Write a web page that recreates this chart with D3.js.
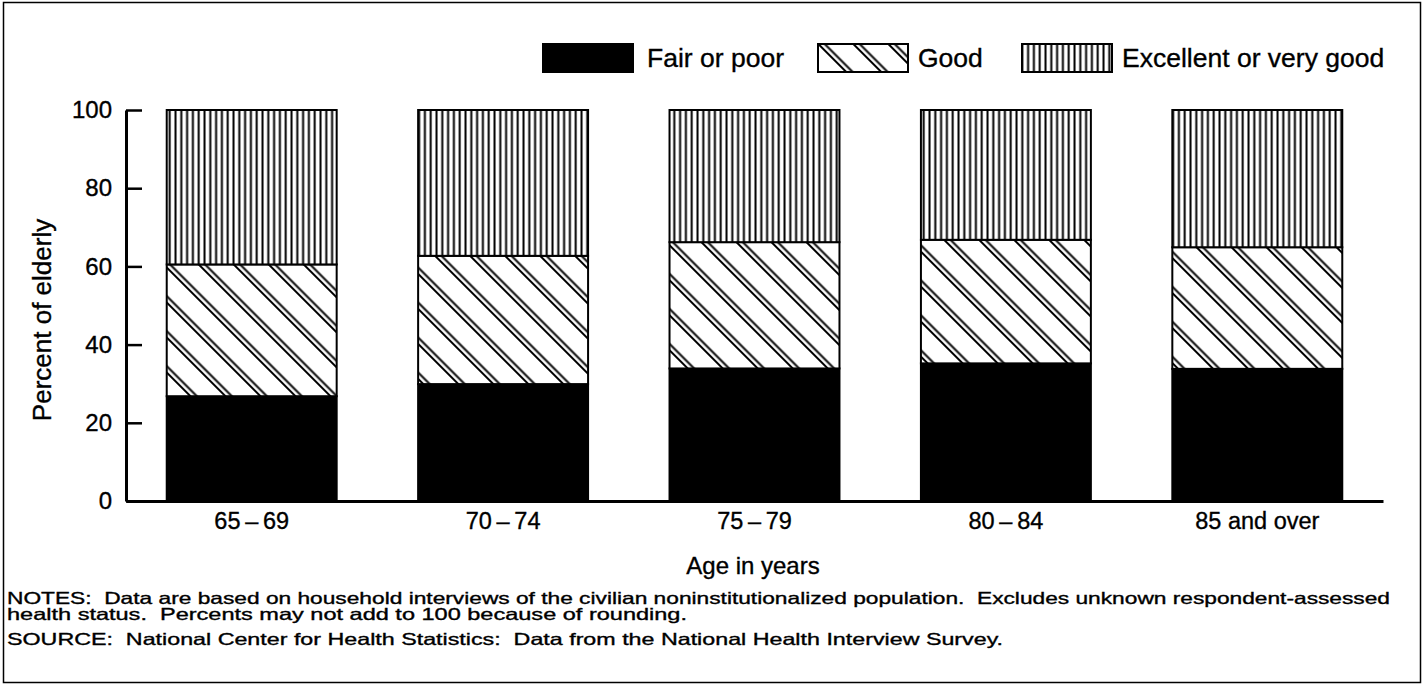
<!DOCTYPE html>
<html>
<head>
<meta charset="utf-8">
<script src="https://cdn.jsdelivr.net/npm/d3@7"></script>
<style>
  html, body { margin: 0; padding: 0; background: #fff; }
  svg { display: block; font-family: "Liberation Sans", Arial, Helvetica, sans-serif; }
  svg text { stroke: #000; stroke-width: 0.35px; fill: #000; }
  svg text.note { white-space: pre; }
</style>
</head>
<body>
<svg id="chart" width="1428" height="685"></svg>
<script>
// ---- Data ----
const categories = ["65\u201369", "70\u201374", "75\u201379", "80\u201384", "85 and over"];
const fairOrPoor = [26.8, 29.9, 33.9, 35.2, 33.8];
const good = [33.7, 32.8, 32.3, 31.6, 31.1];
const excellentOrVeryGood = [39.5, 37.3, 33.8, 33.2, 35.1];
const seriesNames = ["Fair or poor", "Good", "Excellent or very good"];
const yTicks = [0, 20, 40, 60, 80, 100];
const yLabel = "Percent of elderly";
const xLabel = "Age in years";
const notes = [
  "NOTES:  Data are based on household interviews of the civilian noninstitutionalized population.  Excludes unknown respondent-assessed",
  "health status.  Percents may not add to 100 because of rounding.",
  "SOURCE:  National Center for Health Statistics:  Data from the National Health Interview Survey."
];

const rows = categories.map((c, i) => ({
  cat: c,
  "Fair or poor": fairOrPoor[i],
  "Good": good[i],
  "Excellent or very good": excellentOrVeryGood[i]
}));

const svg = d3.select("#chart");

// ---- Patterns ----
const defs = svg.append("defs");
const pGood = defs.append("pattern")
  .attr("id", "pat-good")
  .attr("patternUnits", "userSpaceOnUse")
  .attr("width", 24.75).attr("height", 20)
  .attr("patternTransform", "rotate(-45)");
pGood.append("rect").attr("width", 24.75).attr("height", 20).attr("fill", "#fff");
pGood.append("line").attr("x1", 3).attr("x2", 3).attr("y1", 0).attr("y2", 20)
  .attr("stroke", "#000").attr("stroke-width", 2);
pGood.append("line").attr("x1", 7.5).attr("x2", 7.5).attr("y1", 0).attr("y2", 20)
  .attr("stroke", "#000").attr("stroke-width", 2);

const pExc = defs.append("pattern")
  .attr("id", "pat-exc")
  .attr("patternUnits", "userSpaceOnUse")
  .attr("width", 5.8).attr("height", 10);
pExc.append("rect").attr("width", 5.8).attr("height", 10).attr("fill", "#fff");
pExc.append("line").attr("x1", 1.5).attr("x2", 1.5).attr("y1", 0).attr("y2", 10)
  .attr("stroke", "#000").attr("stroke-width", 2);

const fills = {
  "Fair or poor": "#000",
  "Good": "url(#pat-good)",
  "Excellent or very good": "url(#pat-exc)"
};

// ---- Border ----
svg.append("rect")
  .attr("x", 3.5).attr("y", 2.5).attr("width", 1417).attr("height", 680)
  .attr("fill", "none").attr("stroke", "#000").attr("stroke-width", 1.5);

// ---- Scales ----
const x = d3.scaleBand().domain(categories).range([126, 1383])
  .paddingInner(0.324).paddingOuter(0.162);
const y = d3.scaleLinear().domain([0, 100]).range([501, 110]);

// ---- Bars ----
const stack = d3.stack().keys(seriesNames);
const stacked = stack(rows);

svg.append("g").selectAll("g")
  .data(stacked)
  .join("g")
  .attr("fill", d => fills[d.key])
  .selectAll("rect")
  .data(d => d)
  .join("rect")
  .attr("x", d => x(d.data.cat))
  .attr("width", x.bandwidth())
  .attr("y", d => y(d[1]))
  .attr("height", d => y(d[0]) - y(d[1]))
  .attr("stroke", "#000")
  .attr("stroke-width", 2);

// ---- Axes ----
const yAxis = d3.axisLeft(y).tickValues(yTicks).tickSizeInner(-16).tickSizeOuter(0).tickPadding(14);
const gy = svg.append("g").attr("transform", "translate(126,0)").call(yAxis);
gy.select(".domain").attr("stroke-width", 3);
gy.selectAll(".tick line").attr("stroke-width", 2.5);
gy.selectAll(".tick text").attr("font-size", 24)
  .attr("font-family", "Liberation Sans, Arial, sans-serif");

const xAxis = d3.axisBottom(x).tickSize(0).tickPadding(11)
  .tickFormat(d => d.replace("\u2013", "\u2009\u2013\u2009"));
const gx = svg.append("g").attr("transform", "translate(0,501)").call(xAxis);
gx.select(".domain").attr("stroke-width", 3);
gx.selectAll(".tick text").attr("font-size", 23.5)
  .attr("font-family", "Liberation Sans, Arial, sans-serif");

// ---- Axis titles ----
svg.append("text")
  .attr("transform", "translate(51,320) rotate(-90)")
  .attr("text-anchor", "middle")
  .attr("font-size", 26)
  .text(yLabel);

svg.append("text")
  .attr("x", 753).attr("y", 574)
  .attr("text-anchor", "middle")
  .attr("font-size", 24)
  .text(xLabel);

// ---- Legend ----
const legendItems = [
  { key: "Fair or poor", bx: 543, tx: 647 },
  { key: "Good", bx: 818, tx: 918 },
  { key: "Excellent or very good", bx: 1022, tx: 1122 }
];
const lg = svg.append("g");
legendItems.forEach(it => {
  lg.append("rect")
    .attr("x", it.bx).attr("y", 44).attr("width", 90).attr("height", 28)
    .attr("fill", fills[it.key]).attr("stroke", "#000").attr("stroke-width", 2);
  lg.append("text")
    .attr("x", it.tx).attr("y", 67)
    .attr("font-size", 26.5)
    .text(it.key);
});

// ---- Notes ----
const noteY = [604, 620, 645];
const noteW = [1383, 680, 996];
notes.forEach((t, i) => {
  svg.append("text")
    .attr("class", "note")
    .attr("x", 7).attr("y", noteY[i])
    .attr("font-size", 16.5)
    .attr("textLength", noteW[i])
    .attr("lengthAdjust", "spacingAndGlyphs")
    .text(t);
});
</script>
</body>
</html>
